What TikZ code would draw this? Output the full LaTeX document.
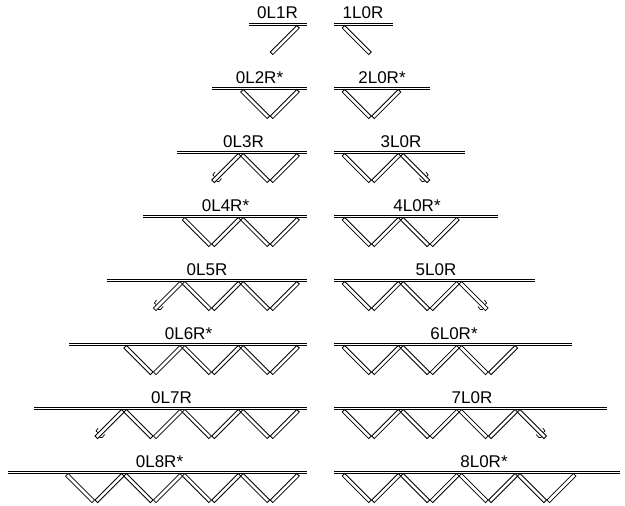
\documentclass[tikz,border=0pt]{standalone}
\usepackage{fontspec}
\setmainfont{Liberation Sans}
\tikzset{
  rail/.style={line width=0.8pt,black},
  strip/.style={draw=black,fill=white,line width=0.8pt,line join=miter},
  lab/.style={anchor=base,inner sep=0pt,font=\fontsize{17}{19}\selectfont,text=black},
  hookline/.style={draw=black,line width=0.7pt}
}
% strip falling to the left: from top (x,y) to bottom (x-d,y+d)
\newcommand{\dnleft}[3]{\draw[strip] ({#1+1.3},{#2+1.3})--({#1-1.3},{#2-1.3})--({#1-#3-1.3},{#2+#3-1.3})--({#1-#3+1.3},{#2+#3+1.3})--cycle;}
\newcommand{\dnright}[3]{\draw[strip] ({#1-1.3},{#2+1.3})--({#1+1.3},{#2-1.3})--({#1+#3+1.3},{#2+#3-1.3})--({#1+#3-1.3},{#2+#3+1.3})--cycle;}
\newcommand{\hookL}[2]{\draw[hookline] ({#1+1},{#2-6})--({#1-1.2},{#2-3})--({#1+0.5},{#2-1.5}) ({#1+2.5},{#2+3.5})--({#1+5},{#2+3.5})--({#1+7.5},{#2+0.5});}
\newcommand{\hookR}[2]{\draw[hookline] ({#1-1},{#2-6})--({#1+1.2},{#2-3})--({#1-0.5},{#2-1.5}) ({#1-2.5},{#2+3.5})--({#1-5},{#2+3.5})--({#1-7.5},{#2+0.5});}
\begin{document}
\begin{tikzpicture}[x=1pt,y=-1pt]
\useasboundingbox (0,0) rectangle (625,506);
\fill[white] (0,0) rectangle (625,506);
\def\pitch{58.4}
\foreach \r/\ll/\rr/\ltx/\rtx/\lab/\labb in {
 0/249/392.5/277.5/363/0L1R/1L0R,
 1/212/430/259.5/382/0L2R*/2L0R*,
 2/177/465/243.5/401/0L3R/3L0R,
 3/143/498/225.5/417/0L4R*/4L0R*,
 4/107/535/207/436/0L5R/5L0R,
 5/69/572/188.5/454/0L6R*/6L0R*,
 6/34/607/171.5/472/0L7R/7L0R,
 7/8/620/159.5/484/0L8R*/8L0R*}{
  \pgfmathsetmacro{\yy}{24.5+64*\r}
  \draw[rail] (\ll,\yy-1.2)--(306.8,\yy-1.2) (\ll,\yy+1.2)--(306.8,\yy+1.2);
  \draw[rail] (334,\yy-1.2)--(\rr,\yy-1.2) (334,\yy+1.2)--(\rr,\yy+1.2);
  \node[lab] at (\ltx,\yy-5.5) {\lab};
  \node[lab] at (\rtx,\yy-5.5) {\labb};
}
% legs: left half and right half of each row
\foreach \r in {0,...,7}{
  \pgfmathsetmacro{\yy}{26.8+64*\r}
  \pgfmathtruncatemacro{\nlegs}{\r+1}
  \foreach \k in {1,...,\nlegs}{
    \pgfmathtruncatemacro{\isodd}{mod(\k,2)}
    \pgfmathsetmacro{\stepn}{floor((\k-1)/2)}
    \ifnum\isodd=1
      \pgfmathsetmacro{\lx}{298-\stepn*\pitch}
      \dnleft{\lx}{\yy}{26.5}
      \pgfmathsetmacro{\rx}{343.5+\stepn*\pitch}
      \dnright{\rx}{\yy}{26.5}
    \else
      \pgfmathsetmacro{\lx}{242-\stepn*\pitch}
      \dnright{\lx}{\yy}{26.5}
      \pgfmathsetmacro{\rx}{399.5+\stepn*\pitch}
      \dnleft{\rx}{\yy}{26.5}
    \fi
  }
}
\hookL{214}{178}
\hookL{155.6}{306}
\hookL{97.2}{434}
\hookR{427}{178}
\hookR{485.4}{306}
\hookR{543.8}{434}
\end{tikzpicture}
\end{document}
